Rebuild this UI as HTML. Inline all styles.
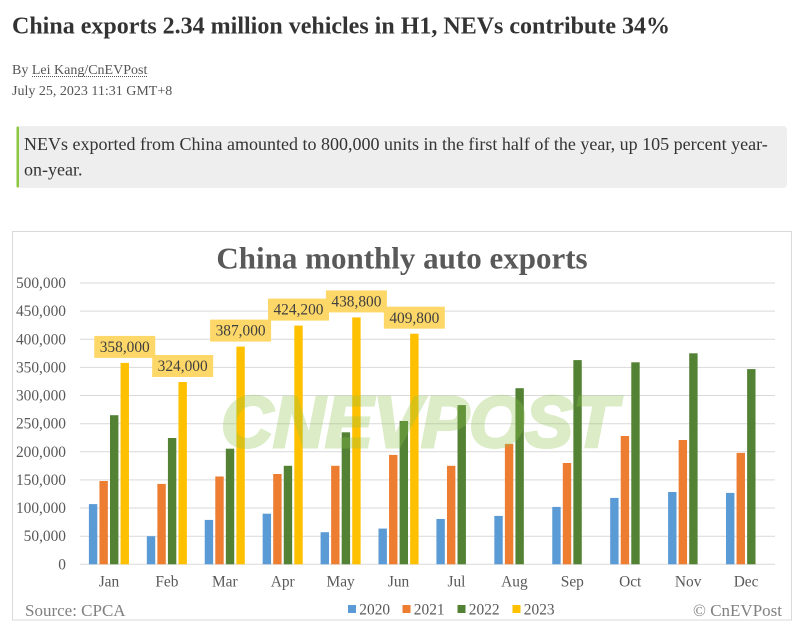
<!DOCTYPE html>
<html>
<head>
<meta charset="utf-8">
<style>
html,body{margin:0;padding:0;background:#fff;}
svg{display:block;}
text{font-family:"Liberation Serif","Times New Roman",serif;}
</style>
</head>
<body>
<svg width="802" height="629" viewBox="0 0 802 629" xmlns="http://www.w3.org/2000/svg">
<rect x="0" y="0" width="802" height="629" fill="#fff"/>

<!-- Header -->
<text x="12" y="33.5" font-size="24" font-weight="bold" fill="#333">China exports 2.34 million vehicles in H1, NEVs contribute 34%</text>
<text x="12" y="74" font-size="14" fill="#555">By <tspan>Lei Kang/CnEVPost</tspan></text>
<line x1="32" y1="76.5" x2="147" y2="76.5" stroke="#555" stroke-width="1" stroke-dasharray="1,1"/>
<text x="12" y="95" font-size="14" fill="#555">July 25, 2023 11:31 GMT+8</text>

<!-- Quote box -->
<rect x="17" y="126" width="770" height="62" rx="4" fill="#eeeeee"/>
<rect x="16.5" y="126.5" width="2.5" height="61" rx="1" fill="#8dc63f"/>
<text x="24" y="150" font-size="18" fill="#333">NEVs exported from China amounted to 800,000 units in the first half of the year, up 105 percent year-</text>
<text x="24" y="175.7" font-size="18" fill="#333">on-year.</text>

<!-- Chart container -->
<rect x="12.5" y="231.5" width="779" height="388.5" fill="#fff" stroke="#d9d9d9" stroke-width="1"/>

<!-- Chart title -->
<text x="402" y="268.3" font-size="31" font-weight="bold" fill="#595959" text-anchor="middle">China monthly auto exports</text>

<!-- Gridlines -->
<g stroke="#d9d9d9" stroke-width="1">
<line x1="80" y1="283" x2="775" y2="283"/>
<line x1="80" y1="311.1" x2="775" y2="311.1"/>
<line x1="80" y1="339.3" x2="775" y2="339.3"/>
<line x1="80" y1="367.4" x2="775" y2="367.4"/>
<line x1="80" y1="395.5" x2="775" y2="395.5"/>
<line x1="80" y1="423.7" x2="775" y2="423.7"/>
<line x1="80" y1="451.8" x2="775" y2="451.8"/>
<line x1="80" y1="479.9" x2="775" y2="479.9"/>
<line x1="80" y1="508" x2="775" y2="508"/>
<line x1="80" y1="536.2" x2="775" y2="536.2"/>
<line x1="80" y1="564.3" x2="775" y2="564.3"/>
</g>

<!-- Y labels -->
<g font-size="15.4" fill="#595959" text-anchor="end">
<text x="66" y="288">500,000</text>
<text x="66" y="316.1">450,000</text>
<text x="66" y="344.3">400,000</text>
<text x="66" y="372.4">350,000</text>
<text x="66" y="400.5">300,000</text>
<text x="66" y="428.7">250,000</text>
<text x="66" y="456.8">200,000</text>
<text x="66" y="484.9">150,000</text>
<text x="66" y="513">100,000</text>
<text x="66" y="541.2">50,000</text>
<text x="66" y="569.3">0</text>
</g>

<!-- Bars 2020 -->
<g fill="#5b9bd5">
<rect x="88.9" y="504.1" width="8.4" height="60.2"/>
<rect x="146.82" y="536.2" width="8.4" height="28.1"/>
<rect x="204.74" y="519.9" width="8.4" height="44.4"/>
<rect x="262.66" y="513.7" width="8.4" height="50.6"/>
<rect x="320.58" y="532.2" width="8.4" height="32.1"/>
<rect x="378.5" y="528.6" width="8.4" height="35.7"/>
<rect x="436.42" y="519.0" width="8.4" height="45.3"/>
<rect x="494.34" y="515.9" width="8.4" height="48.4"/>
<rect x="552.26" y="506.9" width="8.4" height="57.4"/>
<rect x="610.18" y="497.9" width="8.4" height="66.4"/>
<rect x="668.1" y="492.0" width="8.4" height="72.3"/>
<rect x="726.02" y="492.9" width="8.4" height="71.4"/>
</g>
<!-- Bars 2021 -->
<g fill="#ed7d31">
<rect x="99.45" y="481.0" width="8.4" height="83.3"/>
<rect x="157.37" y="483.9" width="8.4" height="80.4"/>
<rect x="215.29" y="476.5" width="8.4" height="87.8"/>
<rect x="273.21" y="474.0" width="8.4" height="90.3"/>
<rect x="331.13" y="465.8" width="8.4" height="98.5"/>
<rect x="389.05" y="454.9" width="8.4" height="109.4"/>
<rect x="446.97" y="465.8" width="8.4" height="98.5"/>
<rect x="504.89" y="443.9" width="8.4" height="120.4"/>
<rect x="562.81" y="463.0" width="8.4" height="101.3"/>
<rect x="620.73" y="436.0" width="8.4" height="128.3"/>
<rect x="678.65" y="440.0" width="8.4" height="124.3"/>
<rect x="736.57" y="452.9" width="8.4" height="111.4"/>
</g>
<!-- Bars 2022 -->
<g fill="#548235">
<rect x="110" y="415.2" width="8.4" height="149.1"/>
<rect x="167.92" y="438.0" width="8.4" height="126.3"/>
<rect x="225.84" y="448.7" width="8.4" height="115.6"/>
<rect x="283.76" y="465.8" width="8.4" height="98.5"/>
<rect x="341.68" y="432.3" width="8.4" height="132.0"/>
<rect x="399.6" y="421.0" width="8.4" height="143.3"/>
<rect x="457.52" y="405.1" width="8.4" height="159.2"/>
<rect x="515.44" y="388.2" width="8.4" height="176.1"/>
<rect x="573.36" y="360.1" width="8.4" height="204.2"/>
<rect x="631.28" y="362.3" width="8.4" height="202.0"/>
<rect x="689.2" y="353.3" width="8.4" height="211.0"/>
<rect x="747.12" y="369.1" width="8.4" height="195.2"/>
</g>
<!-- Bars 2023 -->
<g fill="#ffc000">
<rect x="120.55" y="362.9" width="8.4" height="201.4"/>
<rect x="178.47" y="382.0" width="8.4" height="182.3"/>
<rect x="236.39" y="346.6" width="8.4" height="217.7"/>
<rect x="294.31" y="325.6" width="8.4" height="238.7"/>
<rect x="352.23" y="317.4" width="8.4" height="246.9"/>
<rect x="410.15" y="333.7" width="8.4" height="230.6"/>
</g>

<!-- Watermark -->
<g opacity="0.3">
<text x="221" y="447" font-size="72" font-weight="bold" font-style="italic" fill="#8bc34a" stroke="#8bc34a" stroke-width="3" stroke-linejoin="miter" textLength="396" lengthAdjust="spacingAndGlyphs" style="font-family:'Liberation Sans',sans-serif">CNEVPOST</text>
</g>

<!-- Data labels -->
<g fill="#fdd868">
<rect x="94.25" y="335.9" width="61" height="22"/>
<rect x="152.17" y="355.0" width="61" height="22"/>
<rect x="210.09" y="319.6" width="61" height="22"/>
<rect x="268.0" y="298.6" width="61" height="22"/>
<rect x="325.9" y="290.4" width="61" height="22"/>
<rect x="383.85" y="306.7" width="61" height="22"/>
</g>
<g font-size="15.4" fill="#404040" text-anchor="middle">
<text x="124.75" y="352">358,000</text>
<text x="182.67" y="371.1">324,000</text>
<text x="240.59" y="335.7">387,000</text>
<text x="298.51" y="314.7">424,200</text>
<text x="356.43" y="306.5">438,800</text>
<text x="414.35" y="322.8">409,800</text>
</g>

<!-- Month labels -->
<g font-size="15.4" fill="#595959" text-anchor="middle">
<text x="108.96" y="586.7">Jan</text>
<text x="166.88" y="586.7">Feb</text>
<text x="224.8" y="586.7">Mar</text>
<text x="282.72" y="586.7">Apr</text>
<text x="340.64" y="586.7">May</text>
<text x="398.56" y="586.7">Jun</text>
<text x="456.48" y="586.7">Jul</text>
<text x="514.4" y="586.7">Aug</text>
<text x="572.32" y="586.7">Sep</text>
<text x="630.24" y="586.7">Oct</text>
<text x="688.16" y="586.7">Nov</text>
<text x="746.08" y="586.7">Dec</text>
</g>

<!-- Legend -->
<rect x="348" y="605" width="8" height="8" fill="#5b9bd5"/>
<rect x="402.5" y="605" width="8" height="8" fill="#ed7d31"/>
<rect x="457.5" y="605" width="8" height="8" fill="#548235"/>
<rect x="512.5" y="605" width="8" height="8" fill="#ffc000"/>
<g font-size="15.4" fill="#595959">
<text x="359.3" y="614.5">2020</text>
<text x="413.8" y="614.5">2021</text>
<text x="468.8" y="614.5">2022</text>
<text x="523.8" y="614.5">2023</text>
</g>

<!-- Source / copyright -->
<text x="25" y="616" font-size="17" fill="#808080">Source: CPCA</text>
<text x="782" y="616" font-size="17" fill="#808080" text-anchor="end">© CnEVPost</text>
</svg>
</body>
</html>
